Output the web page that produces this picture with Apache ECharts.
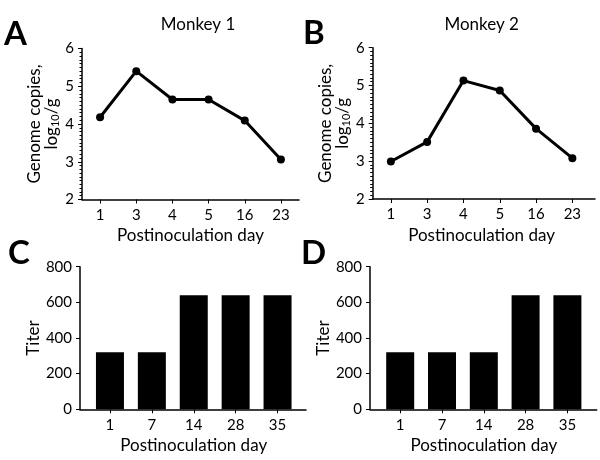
<!DOCTYPE html>
<html>
<head>
<meta charset="utf-8">
<script src="https://cdn.jsdelivr.net/npm/echarts@6/dist/echarts.min.js"></script>
<style>html,body{margin:0;padding:0;background:#fff}#c{width:600px;height:460px}</style>
</head>
<body>
<div id="c"></div>
<script>
const daysAB = ['1', '3', '4', '5', '16', '23'];
const monkey1Genome = [4.18, 5.40, 4.65, 4.65, 4.09, 3.06];
const monkey2Genome = [2.99, 3.51, 5.13, 4.87, 3.86, 3.08];
const daysCD = ['1', '7', '14', '28', '35'];
const monkey1Titer = [320, 320, 640, 640, 640];
const monkey2Titer = [320, 320, 320, 640, 640];
const panelTitles = ['Monkey 1', 'Monkey 2'];
const panelLetters = ['A', 'B', 'C', 'D'];
const xName = 'Postinoculation day';
const titerName = 'Titer';

const FONT = 'Lato';
const BLACK = '#000';

const chart = echarts.init(document.getElementById('c'), null, {renderer: 'canvas'});

const genomeName = '{a|Genome copies,}\n{a|log}{s|10}{a|/g}';
const nameRich = {
  a: {fontSize: 17, fontFamily: FONT, color: BLACK, lineHeight: 17},
  s: {fontSize: 11, fontFamily: FONT, color: BLACK, lineHeight: 17, padding: [9, 0, 0, 0]}
};

function genomeY(gi) {
  return {
    type: 'value', gridIndex: gi, min: 2, max: 6, interval: 1,
    name: genomeName, nameLocation: 'middle', nameRotate: 90, nameGap: 22,
    nameTextStyle: {rich: nameRich, align: 'center'},
    axisLine: {show: true, lineStyle: {color: BLACK, width: 1.5}},
    axisTick: {show: true, length: 4, lineStyle: {color: BLACK, width: 1}},
    minorTick: {show: true, splitNumber: 10, length: 2.5, lineStyle: {color: BLACK, width: 1}},
    axisLabel: {fontFamily: FONT, fontSize: 15, color: BLACK, margin: 8},
    splitLine: {show: false}
  };
}
function titerY(gi, off) {
  return {
    type: 'value', gridIndex: gi, min: 0, max: 800, interval: 200, offset: off,
    name: titerName, nameLocation: 'middle', nameRotate: 90, nameGap: 38,
    nameTextStyle: {fontFamily: FONT, fontSize: 17, color: BLACK},
    axisLine: {show: true, lineStyle: {color: BLACK, width: 1.5}},
    axisTick: {show: true, length: 4, lineStyle: {color: BLACK, width: 1}},
    axisLabel: {fontFamily: FONT, fontSize: 15, color: BLACK, margin: 8},
    splitLine: {show: false}
  };
}
function catX(gi, data, showLine) {
  return {
    type: 'category', gridIndex: gi, data: data, boundaryGap: true,
    name: xName, nameLocation: 'middle', nameGap: 28,
    nameTextStyle: {fontFamily: FONT, fontSize: 17, color: BLACK},
    axisLine: {show: showLine, lineStyle: {color: BLACK, width: 1.5}},
    axisTick: {show: true, alignWithLabel: true, length: 4, lineStyle: {color: BLACK, width: 1}},
    axisLabel: {fontFamily: FONT, fontSize: 15, color: BLACK, margin: 8},
    splitLine: {show: false}
  };
}
function auxX(gi) {
  return {
    type: 'value', gridIndex: gi, min: 0, max: 1,
    axisLine: {show: true, lineStyle: {color: BLACK, width: 1.5}},
    axisTick: {show: false}, axisLabel: {show: false}, splitLine: {show: false}
  };
}
function auxY(gi) {
  return {type: 'value', gridIndex: gi, min: 0, max: 1, show: false};
}
function letter(i, x, y) {
  return {type: 'text', x: x, y: y, style: {text: panelLetters[i], fontFamily: FONT, fontSize: 33, fontWeight: 'bold', fill: BLACK}};
}
function title(i, x, y) {
  return {type: 'text', x: x, y: y, style: {text: panelTitles[i], fontFamily: FONT, fontSize: 17, fill: BLACK, align: 'center', verticalAlign: 'middle'}};
}

const option = {
  backgroundColor: '#fff',
  animation: false,
  grid: [
    {left: 82, width: 217, top: 48.5, height: 151},
    {left: 372.7, width: 217.8, top: 47.7, height: 151.3},
    {left: 89, width: 209.5, top: 266.7, height: 142.6},
    {left: 379.3, width: 209, top: 266.7, height: 142.6},
    {left: 372.7, right: 5, top: 47.7, height: 151.3},
    {left: 80, width: 226, top: 266.7, height: 142.6},
    {left: 370, right: 3.3, top: 266.7, height: 142.6}
  ],
  xAxis: [
    catX(0, daysAB, true),
    catX(1, daysAB, false),
    catX(2, daysCD, false),
    catX(3, daysCD, false),
    auxX(4), auxX(5), auxX(6)
  ],
  yAxis: [
    genomeY(0),
    genomeY(1),
    titerY(2, 9),
    titerY(3, 9.3),
    auxY(4), auxY(5), auxY(6)
  ],
  series: [
    {type: 'line', xAxisIndex: 0, yAxisIndex: 0, data: monkey1Genome, symbol: 'circle', symbolSize: 8,
     lineStyle: {color: BLACK, width: 3}, itemStyle: {color: BLACK}},
    {type: 'line', xAxisIndex: 1, yAxisIndex: 1, data: monkey2Genome, symbol: 'circle', symbolSize: 8,
     lineStyle: {color: BLACK, width: 3}, itemStyle: {color: BLACK}},
    {type: 'bar', xAxisIndex: 2, yAxisIndex: 2, data: monkey1Titer, barWidth: 28, itemStyle: {color: BLACK}},
    {type: 'bar', xAxisIndex: 3, yAxisIndex: 3, data: monkey2Titer, barWidth: 28, itemStyle: {color: BLACK}}
  ],
  graphic: [
    title(0, 198, 25),
    title(1, 481.7, 25),
    letter(0, 4, 18),
    letter(1, 303, 17),
    letter(2, 8, 237),
    letter(3, 301, 237)
  ]
};
chart.setOption(option);
</script>
</body>
</html>
